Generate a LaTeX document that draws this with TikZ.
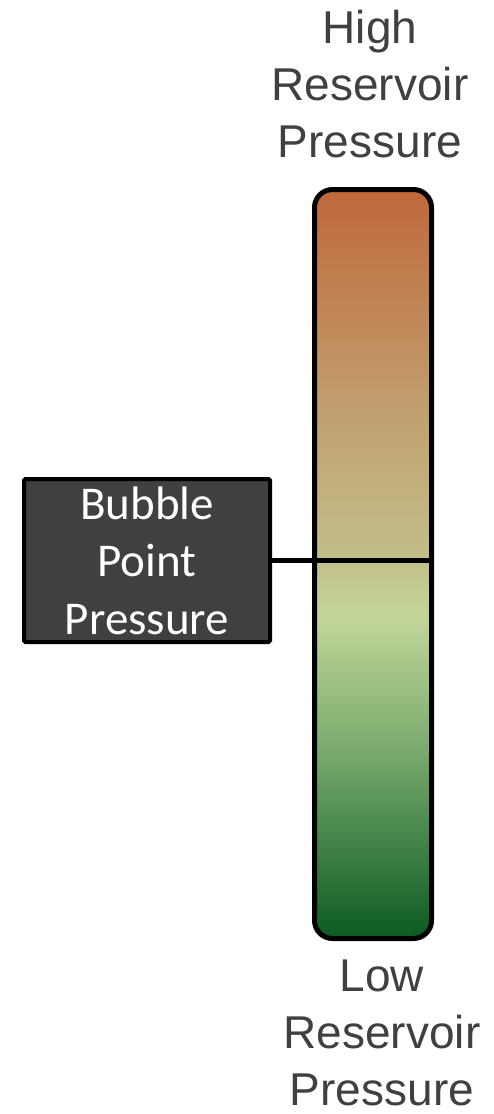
\documentclass[tikz,border=0pt]{standalone}
\usepackage{fontspec}
\setmainfont{Liberation Sans}
\newfontfamily\boxfont{Carlito}

\definecolor{labelgray}{HTML}{404040}
\definecolor{highbrown}{HTML}{C0683A}
\definecolor{upperbrown}{HTML}{C1A070}
\definecolor{midkhaki}{HTML}{C2BE88}
\definecolor{palegreen}{HTML}{C3D69A}
\definecolor{midgreen}{HTML}{78AA6C}
\definecolor{lowgreen}{HTML}{0B5A22}

% Farbverlauf des Balkens (oben braun, unten gruen)
\pgfdeclareverticalshading{pressureshade}{100bp}{%
  color(0bp)=(lowgreen); color(25bp)=(lowgreen);
  color(37.5bp)=(midgreen); color(46.5bp)=(palegreen);
  color(50.5bp)=(midkhaki); color(60bp)=(upperbrown);
  color(75bp)=(highbrown); color(100bp)=(highbrown)}

\begin{document}
\begin{tikzpicture}[x=1pt, y=-1pt,
    pressurebar/.style={draw=black, line width=5pt, rounded corners=18pt,
      shading=pressureshade, minimum width=117pt, minimum height=749pt,
      inner sep=0pt},
    bubblebox/.style={draw=black, fill=labelgray, line width=4pt,
      rounded corners=1.5pt, minimum width=246pt, minimum height=163pt,
      inner sep=0pt, text=white, align=center,
      font=\boxfont\fontsize{47}{57.5}\selectfont},
    endlabel/.style={text=labelgray, align=center, inner sep=0pt,
      font=\fontsize{46}{57}\selectfont}]

  % Rahmen
  \useasboundingbox (0,0) rectangle (493,1114);

  % Balken
  \node[pressurebar] (bar) at (373,564) {};

  % Beschriftung oben und unten
  \node[endlabel] (high) at (370,84.5) {High\\Reservoir\\Pressure};
  \node[endlabel] (low) at (382,1033) {Low\\Reservoir\\Pressure};

  % Blasenpunkt
  \node[bubblebox] (bubble) at (147,560.5) {Bubble\\Point\\Pressure};
  \draw[line width=5pt] (bubble.east) -- (bubble.east -| bar.east);

\end{tikzpicture}
\end{document}
